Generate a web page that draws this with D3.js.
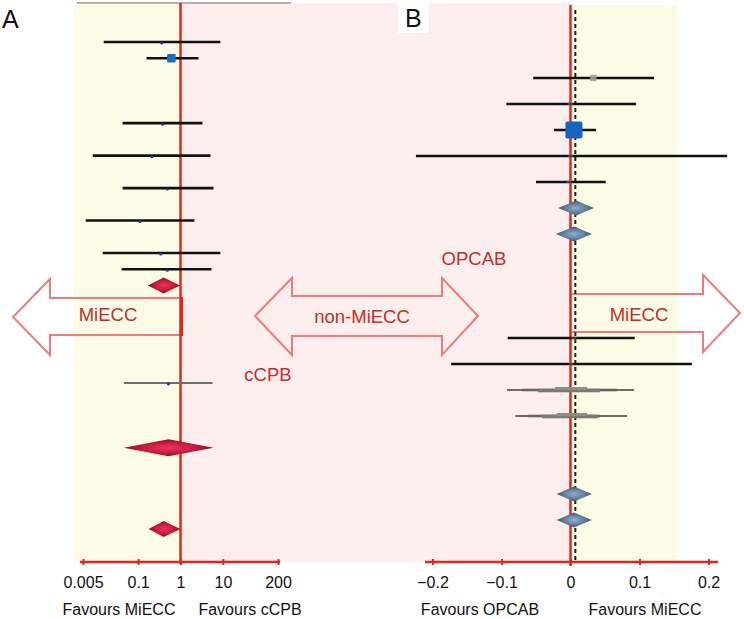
<!DOCTYPE html>
<html><head><meta charset="utf-8">
<script src="https://cdn.jsdelivr.net/npm/d3@7"></script>
<style>
html,body{margin:0;padding:0;background:#fff;}
svg{display:block;font-family:Helvetica,Arial,"Liberation Sans",sans-serif;}
</style></head>
<body>
<svg id="c" width="744" height="619"></svg>
<script>
// ---------- Panel A data (odds ratio, log scale) ----------
const aTicks = [0.005, 0.1, 1, 10, 200];
const aRow = [0, 1, 5, 7, 9, 11, 13, 14, 21];
const aEst = [0.36, 0.61, 0.38, 0.21, 0.49, 0.11, 0.34, 0.49, 0.52];
const aLo  = [0.0154, 0.158, 0.043, 0.0085, 0.043, 0.0058, 0.0146, 0.041, 0.046];
const aHi  = [8.7, 2.65, 3.3, 5.1, 6.0, 2.13, 8.7, 5.4, 5.7];
const aWeight = [1, 14, 1, 1, 1, 1, 1, 1, 1];
const aGroup = ["MiECC","MiECC","MiECC","MiECC","MiECC","MiECC","MiECC","MiECC","cCPB"];
const aSumRow = [15, 25, 30];
const aSumEst = [0.40, 0.52, 0.40];
const aSumLo  = [0.17, 0.046, 0.177];
const aSumHi  = [0.98, 6.0, 1.0];

// ---------- Panel B data (risk difference, linear scale) ----------
const bTicks = [-0.2, -0.1, 0, 0.1, 0.2];
const bTickLabels = ["\u22120.2", "\u22120.1", "0", "0.1", "0.2"];
const bRow = [0, 1, 2, 3, 4, 10, 11];
const bEst = [0.033, 0.0, 0.005, 0.0, -0.002, 0.005, 0.001];
const bLo  = [-0.054, -0.093, -0.024, -0.224, -0.050, -0.091, -0.173];
const bHi  = [0.121, 0.095, 0.037, 0.227, 0.051, 0.093, 0.176];
const bWeight = [2, 1, 30, 1, 1, 1, 1];
const bSumRow = [5, 6, 16, 17];
const bSumEst = [0.008, 0.005, 0.005, 0.005];
const bSumLo  = [-0.018, -0.021, -0.020, -0.020];
const bSumHi  = [0.034, 0.031, 0.031, 0.031];
const bPredRow = [12, 13];
const bPredLayers = [
  [[-0.092, 0.092], [-0.070, 0.067], [-0.047, 0.043], [-0.022, 0.024]],
  [[-0.080, 0.082], [-0.062, 0.043], [-0.041, 0.040], [-0.020, 0.024]]
];
const bOverall = 0.007;

// ---------- Labels ----------
const panelLabels = ["A", "B"];
const axisTitlesA = ["Favours MiECC", "Favours cCPB"];
const axisTitlesB = ["Favours OPCAB", "Favours MiECC"];

// ---------- Scales ----------
const xA = d3.scaleLog().domain([0.005, 200]).range([83, 278]);
const yA = d3.scaleLinear().domain([0, 30]).range([42, 529]);
const xB = d3.scaleLinear().domain([-0.2, 0.2]).range([432.5, 708.5]);
const yB = d3.scaleLinear().domain([0, 17]).range([78, 520]);

const svg = d3.select("#c");
const defs = svg.append("defs");
const rg = defs.append("radialGradient").attr("id","redDia");
rg.append("stop").attr("offset","0%").attr("stop-color","#e8365e");
rg.append("stop").attr("offset","60%").attr("stop-color","#c81a3c");
rg.append("stop").attr("offset","100%").attr("stop-color","#8a0a20");
const bg = defs.append("radialGradient").attr("id","blueDia");
bg.append("stop").attr("offset","0%").attr("stop-color","#90aec6");
bg.append("stop").attr("offset","55%").attr("stop-color","#6584a4");
bg.append("stop").attr("offset","100%").attr("stop-color","#3a5674");

const RED = "#e1271c", TXT = "#c0302a", ARROW = "#ec7c7c";
const yTop = 3, yBot = 562;

// ---------- Backgrounds ----------
svg.append("rect").attr("x", 74).attr("y", yTop).attr("width", xA(1) - 74).attr("height", yBot - yTop).attr("fill", "#fbfbe6");
svg.append("rect").attr("x", xA(1)).attr("y", yTop).attr("width", xB(0) - xA(1)).attr("height", yBot - yTop).attr("fill", "#fdeeee");
svg.append("rect").attr("x", xB(0)).attr("y", 5).attr("width", xB(0.155) - xB(0)).attr("height", yBot - 5).attr("fill", "#fbfbe6");
svg.append("line").attr("x1", 77).attr("x2", 291).attr("y1", 3).attr("y2", 3).attr("stroke", "#9a9a9a").attr("stroke-width", 1.5);
svg.append("rect").attr("x", 398).attr("y", 0).attr("width", 31).attr("height", 33).attr("fill", "#fff");

// ---------- Arrows ----------
const arrowG = svg.append("g").attr("fill", "none").attr("stroke", ARROW).attr("stroke-width", 2).attr("stroke-linejoin", "miter");
arrowG.append("path").attr("d", "M182,298 L50,298 L50,279 L13,317 L50,355 L50,335 L182,335");
arrowG.append("path").attr("d", "M292,296 L442,296 L442,278 L478,316 L442,355 L442,336 L292,336 L292,355 L255,316 L292,278 Z");
arrowG.append("path").attr("d", "M572,294 L703,294 L703,275 L740,313 L703,352 L703,332 L572,332");

// ---------- Reference lines ----------
svg.append("line").attr("x1", xA(1)).attr("x2", xA(1)).attr("y1", yTop).attr("y2", 564).attr("stroke", RED).attr("stroke-width", 2.5);
svg.append("line").attr("x1", 182).attr("x2", 182).attr("y1", 297).attr("y2", 336).attr("stroke", RED).attr("stroke-width", 2);
svg.append("line").attr("x1", xB(bOverall)).attr("x2", xB(bOverall)).attr("y1", 10).attr("y2", 560)
  .attr("stroke", "#1a1a1a").attr("stroke-width", 2).attr("stroke-dasharray", "4,3");
svg.append("line").attr("x1", xB(0)).attr("x2", xB(0)).attr("y1", 5).attr("y2", 566).attr("stroke", RED).attr("stroke-width", 2.5);

// ---------- Panel A marks ----------
const wA = d3.scaleSqrt().domain([0, 14]).range([0, 8.5]);
aRow.forEach((r, i) => {
  const y = yA(r);
  const grey = aGroup[i] === "cCPB";
  svg.append("line").attr("x1", xA(aLo[i])).attr("x2", xA(aHi[i])).attr("y1", y).attr("y2", y)
    .attr("stroke", grey ? "#6e6e6e" : "#111").attr("stroke-width", grey ? 2 : 2.6);
  const s = Math.max(3, wA(aWeight[i]));
  svg.append("rect").attr("x", xA(aEst[i]) - s / 2).attr("y", y - s / 2 + (s > 3 ? 0 : 1)).attr("width", s).attr("height", s)
    .attr("rx", s > 3 ? 1 : 1.5).attr("fill", s > 3 ? "#1a6cc0" : "#23308a");
});
aSumRow.forEach((r, i) => {
  const y = yA(r), h = (i === 1) ? 8.5 : 8;
  svg.append("path").attr("d", `M${xA(aSumLo[i])},${y} L${xA(aSumEst[i])},${y - h} L${xA(aSumHi[i])},${y} L${xA(aSumEst[i])},${y + h} Z`)
    .attr("fill", "url(#redDia)");
});

// ---------- Panel B marks ----------
const wB = d3.scaleSqrt().domain([0, 30]).range([0, 17]);
bRow.forEach((r, i) => {
  const y = yB(r);
  svg.append("line").attr("x1", xB(bLo[i])).attr("x2", xB(bHi[i])).attr("y1", y).attr("y2", y)
    .attr("stroke", "#111").attr("stroke-width", 2.6);
  const s = wB(bWeight[i]);
  if (s > 10) {
    svg.append("rect").attr("x", xB(bEst[i]) - s / 2).attr("y", y - s / 2).attr("width", s).attr("height", s)
      .attr("rx", 2).attr("fill", "#1565c0");
  } else {
    svg.append("rect").attr("x", xB(bEst[i]) - Math.max(2, s) / 2 - 1).attr("y", y - Math.max(2, s) / 2 - 1)
      .attr("width", Math.max(2, s) + 2).attr("height", Math.max(2, s) + 2)
      .attr("fill", "#a0a090").attr("opacity", bWeight[i] > 1 ? 0.9 : 0.35);
  }
});
bPredRow.forEach((r, i) => {
  const y = yB(r);
  const layers = bPredLayers[i];
  const cols = ["#4a4a4a", "#66665e", "#7a7a70", "#8e8e84"];
  const hs = [1.6, 2.6, 3.6, 3];
  const offs = [0, 0, 0.5, -1.5];
  layers.forEach((L, k) => {
    svg.append("rect").attr("x", xB(L[0])).attr("y", y - hs[k] / 2 + offs[k]).attr("width", xB(L[1]) - xB(L[0])).attr("height", hs[k])
      .attr("fill", cols[k]);
  });
});
bSumRow.forEach((r, i) => {
  const y = yB(r), h = 7.5;
  svg.append("path").attr("d", `M${xB(bSumLo[i])},${y} L${xB(bSumEst[i])},${y - h} L${xB(bSumHi[i])},${y} L${xB(bSumEst[i])},${y + h} Z`)
    .attr("fill", "url(#blueDia)");
});

// ---------- Axes ----------
function styleAxis(g) {
  g.select(".domain").remove();
  g.selectAll(".tick line").attr("stroke", RED).attr("stroke-width", 2).attr("y1", -3).attr("y2", 3);
  g.selectAll(".tick text").attr("fill", "#111").attr("font-size", 16)
    .attr("font-family", "Helvetica,Arial,'Liberation Sans',sans-serif").attr("y", 15).attr("dy", "0.71em");
}
svg.append("line").attr("x1", 80).attr("x2", 280).attr("y1", yBot).attr("y2", yBot).attr("stroke", RED).attr("stroke-width", 2.5);
svg.append("g").attr("transform", `translate(0,${yBot})`)
  .call(d3.axisBottom(xA).tickValues(aTicks).tickFormat(d => String(d)).tickSizeOuter(0)).call(styleAxis);
svg.append("line").attr("x1", 425).attr("x2", 718).attr("y1", yBot).attr("y2", yBot).attr("stroke", RED).attr("stroke-width", 2.5);
svg.append("g").attr("transform", `translate(0,${yBot})`)
  .call(d3.axisBottom(xB).tickValues(bTicks).tickFormat((d, i) => bTickLabels[i]).tickSizeOuter(0)).call(styleAxis);

// ---------- Text ----------
const T = (x, y, s, size, fill, anchor) => svg.append("text").attr("x", x).attr("y", y).text(s)
  .attr("font-size", size).attr("fill", fill).attr("text-anchor", anchor || "middle");
T(119, 615, axisTitlesA[0], 16, "#111");
T(250, 615, axisTitlesA[1], 16, "#111");
T(480, 615, axisTitlesB[0], 16, "#111");
T(645, 615, axisTitlesB[1], 16, "#111");
T(2, 28, panelLabels[0], 25, "#111", "start");
T(405, 27, panelLabels[1], 25, "#111", "start");
T(108, 321, "MiECC", 18.5, TXT);
T(268, 381, "cCPB", 18.5, TXT);
T(362, 323, "non-MiECC", 18.5, TXT);
T(474, 265, "OPCAB", 18.5, TXT);
T(639, 321, "MiECC", 18.5, TXT);
</script>
</body></html>
